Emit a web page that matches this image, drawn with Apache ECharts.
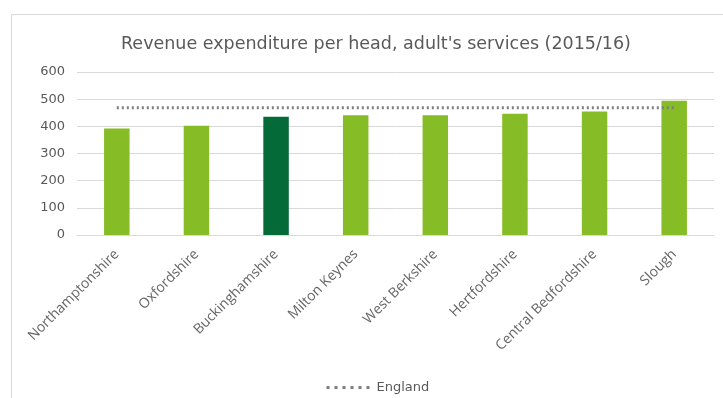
<!DOCTYPE html>
<html>
<head>
<meta charset="utf-8">
<script src="https://cdn.jsdelivr.net/npm/echarts@6/dist/echarts.min.js"></script>
<style>
  html, body { margin: 0; padding: 0; background: #fff; }
  #chart { width: 723px; height: 398px; }
</style>
</head>
<body>
<div id="chart"></div>
<script>
var categories = ['Northamptonshire', 'Oxfordshire', 'Buckinghamshire', 'Milton Keynes',
    'West Berkshire', 'Hertfordshire', 'Central Bedfordshire', 'Slough'];
var spend = [392, 402, 435, 441, 441, 446, 455, 494];
var england = [468, 468, 468, 468, 468, 468, 468, 468];
var highlight = 'Buckinghamshire';

var chartDom = document.getElementById('chart');
var mychart = echarts.init(chartDom, null, { renderer: 'canvas' });

var barData = categories.map(function (c, i) {
    return {
        value: spend[i],
        itemStyle: { color: c === highlight ? '#046A38' : '#86BC25' }
    };
});

mychart.setOption({
    animation: false,
    textStyle: { fontFamily: 'DejaVu Sans', color: '#595959' },
    graphic: [{
        type: 'rect',
        shape: { x: 11.5, y: 14.5, width: 730, height: 390 },
        style: { fill: 'none', stroke: '#d9d9d9', lineWidth: 1 },
        silent: true
    }],
    title: {
        text: "Revenue expenditure per head, adult's services (2015/16)",
        left: 116,
        top: 30,
        textStyle: { fontSize: 17.5, fontWeight: 'normal', color: '#595959', fontFamily: 'DejaVu Sans' }
    },
    legend: {
        top: 376,
        left: 320,
        itemWidth: 45,
        itemHeight: 10,
        itemGap: 6,
        textStyle: { fontSize: 13, color: '#595959' },
        itemStyle: { opacity: 0 },
        lineStyle: { color: '#7f7f7f', width: 3, type: [3, 5] },
        data: ['England']
    },
    grid: { left: 77, right: 9, top: 72, bottom: 163, containLabel: false },
    xAxis: {
        type: 'category',
        data: categories,
        axisLine: { lineStyle: { color: '#d9d9d9' } },
        axisTick: { show: false },
        axisLabel: {
            rotate: 45, interval: 0, fontSize: 14, fontFamily: 'Open Sans',
            color: '#666666', margin: 17
        }
    },
    yAxis: {
        type: 'value',
        min: 0,
        max: 600,
        interval: 100,
        axisLine: { show: false },
        axisTick: { show: false },
        axisLabel: { fontSize: 13, color: '#595959', margin: 12 },
        splitLine: { lineStyle: { color: '#d9d9d9' } }
    },
    series: [{
        name: 'Spend',
        type: 'bar',
        data: barData,
        barWidth: '32%'
    }, {
        name: 'England',
        type: 'line',
        data: england,
        symbol: 'none',
        lineStyle: { color: '#7f7f7f', width: 3, type: [2, 3] },
        itemStyle: { color: '#7f7f7f' }
    }]
});
</script>
</body>
</html>
